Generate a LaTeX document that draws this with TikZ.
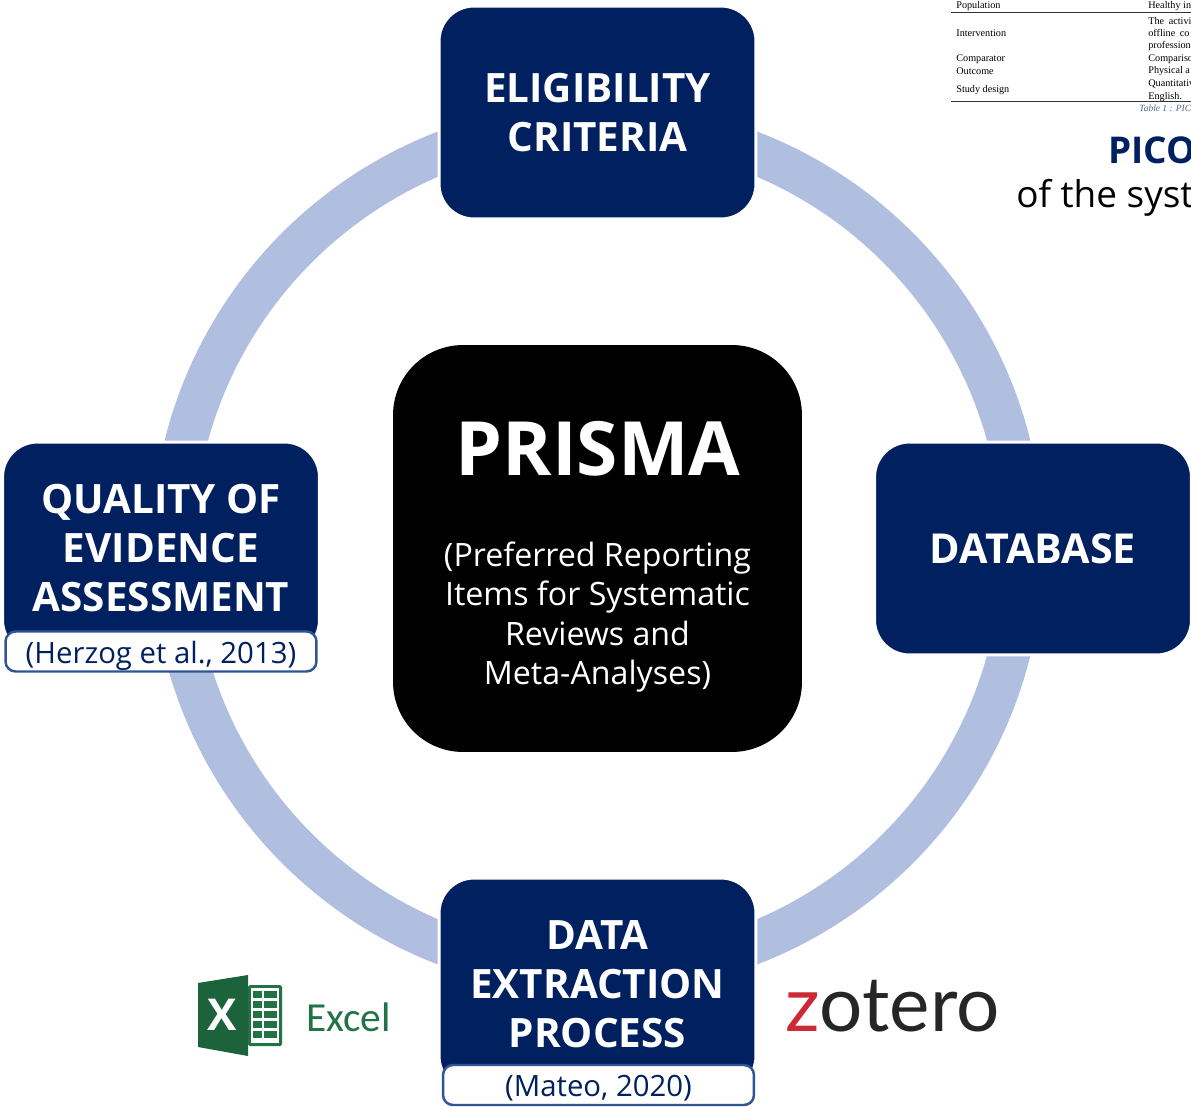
\documentclass[tikz,border=0pt]{standalone}
\usepackage{fontspec}
\setmainfont{Open Sans}
\newfontfamily\tablefont{Liberation Serif}
\newfontfamily\logofont{Lato}
\newfontfamily\excelfont{Carlito}
\definecolor{navy}{HTML}{002060}
\definecolor{ringblue}{HTML}{B0BEDF}
\definecolor{citeblue}{HTML}{2F5597}
\definecolor{excelgreen}{HTML}{217346}
\definecolor{zotred}{HTML}{CC2936}
\definecolor{zotdark}{HTML}{262626}
\tikzset{
  stage/.style={shape=rectangle,rounded corners=0.7cm,fill=navy,draw=white,line width=1.7pt,minimum width=6.34cm,minimum height=4.26cm,text=white,align=center,font=\fontsize{23}{27.9}\selectfont\bfseries},
  cite/.style={shape=rectangle,rounded corners=0.2cm,fill=white,draw=citeblue,line width=1.4pt,minimum width=6.22cm,minimum height=0.8cm,text=navy,text height=0.5cm,text depth=0.04cm,inner ysep=0pt,font=\fontsize{16.7}{20}\selectfont},
  row/.style={anchor=west,inner sep=0pt,font=\tablefont\fontsize{5.8}{7}\selectfont},
}
\begin{document}
\begin{tikzpicture}[x=0.02cm,y=-0.02cm]
\clip (0,0) rectangle (1191,1109);
% ring behind the boxes
\node[shape=circle,draw=ringblue,line width=0.84cm,minimum size=17cm,inner sep=0pt] (ring) at (597.5,548) {};
% boxes
\node[stage] (eligibility) at (597.5,112.5) {ELIGIBILITY\\CRITERIA};
\node[stage] (database) at (1033,548.5) {\fontsize{23.5}{27.9}\selectfont DATABASE};
\node[stage] (quality) at (161,548.5) {QUALITY OF\\EVIDENCE\\ASSESSMENT};
\node[stage] (extraction) at (597.5,984.5) {DATA\\EXTRACTION\\PROCESS};
\node[cite] (herzog) at (161,651.5) {(Herzog et al., 2013)};
\node[cite] (mateo) at (598.5,1085) {(Mateo, 2020)};
% centre
\node[shape=rectangle,rounded corners=1.4cm,fill=black,minimum width=8.18cm,minimum height=8.14cm] (prisma) at (597.5,548.5) {};
\node[text=white,font=\fontsize{42.6}{50}\selectfont\bfseries] (title) at (598,449) {PRISMA};
\node[text=white,align=center,font=\fontsize{18.3}{22.3}\selectfont] (subtitle) at (597.5,617) {(Preferred Reporting\\Items for Systematic\\Reviews and\\Meta-Analyses)};
% table
\node[row] (t1) at (956,6) {Population};
\node[row] (t2) at (956,33) {Intervention};
\node[row] (t3) at (956,59) {Comparator};
\node[row] (t4) at (956,71) {Outcome};
\node[row] (t5) at (956,90) {Study design};
\node[row] (d1) at (1148,6) {Healthy in};
\node[row] (d2) at (1148,21) {The\hspace{0.45em}activi};
\node[row] (d3) at (1148,33) {offline\hspace{0.45em}co};
\node[row] (d4) at (1148,46) {professiona};
\node[row] (d5) at (1148,59) {Compariso};
\node[row] (d6) at (1148,71) {Physical a};
\node[row] (d7) at (1148,84) {Quantitativ};
\node[row] (d8) at (1148,97) {English.};
\coordinate (rule1a) at (951,12);
\coordinate (rule1b) at (1191,12);
\coordinate (rule2a) at (951,101.5);
\coordinate (rule2b) at (1191,101.5);
\draw[line width=0.45pt,black!80] (rule1a) -- (rule1b);
\draw[line width=0.45pt,black!80] (rule2a) -- (rule2b);
\node[row,text=citeblue!60!gray,font=\tablefont\itshape\fontsize{5.4}{6}\selectfont] (caption) at (1139,108.5) {Table 1 : PIC};
\node[anchor=west,inner sep=0pt,text=navy,font=\fontsize{21}{25}\selectfont\bfseries] (pico) at (1108,150) {PICO};
\node[anchor=west,inner sep=0pt,font=\fontsize{21}{25}\selectfont] (system) at (1016,198) {of the syst};
% excel logo
\fill[excelgreen,rounded corners=1pt] (248,985) rectangle (282,1046);
\fill[white] (251,988) rectangle (279,1043);
\foreach \y in {991,1001,1011,1021,1031} {
  \fill[excelgreen] (253,\y) rectangle (262,\y+7);
  \fill[excelgreen] (264,\y) rectangle (277,\y+7);
}
\fill[excelgreen!85!black] (198,983) -- (248,975) -- (248,1056) -- (198,1047) -- cycle;
\node[text=white,inner sep=0pt,font=\fontsize{25}{30}\selectfont\bfseries] (excelx) at (222,1015) {X};
\node[anchor=west,inner sep=0pt,text=excelgreen,font=\excelfont\fontsize{23.5}{27}\selectfont] (excel) at (306,1017) {Excel};
% zotero logo
\node[anchor=west,inner sep=0pt,text=zotdark,font=\logofont\fontsize{43.5}{50}\selectfont] (zotero) at (785,1006) {{\color{zotred}z}otero};
\end{tikzpicture}
\end{document}
